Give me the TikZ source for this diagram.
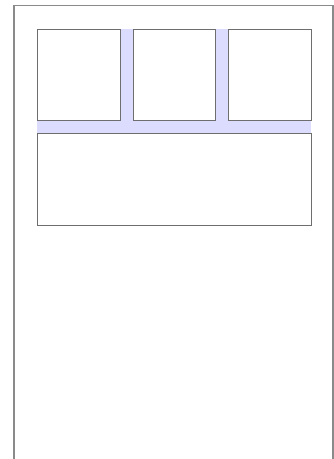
\documentclass[tikz,border=0pt]{standalone}
\definecolor{bandblue}{HTML}{DCDCFF}
\definecolor{framegray}{HTML}{8A8A8A}
\definecolor{boxgray}{HTML}{6E6E6E}
\begin{document}
\begin{tikzpicture}[x=0.75pt,y=-0.75pt,
  panel/.style={draw=boxgray,line width=1pt,fill=white,inner sep=0pt,anchor=north west}]
\useasboundingbox (0,0) rectangle (334,459);
\fill[white] (0,0) rectangle (334,459);
% outer frame (open at bottom)
\draw[framegray,line width=1.1pt] (14,459) -- (14,5.5) -- (333,5.5) -- (333,459);
% blue band behind panels
\fill[bandblue] (37,29) rectangle (311,133);
% panels
\node[panel,minimum width=62.25pt,minimum height=68.25pt] (p1) at (37,29) {};
\node[panel,minimum width=61.5pt,minimum height=68.25pt] (p2) at (133,29) {};
\node[panel,minimum width=62.25pt,minimum height=68.25pt] (p3) at (228,29) {};
\node[panel,minimum width=205.5pt,minimum height=69pt] (p4) at (37,133) {};
\end{tikzpicture}
\end{document}
